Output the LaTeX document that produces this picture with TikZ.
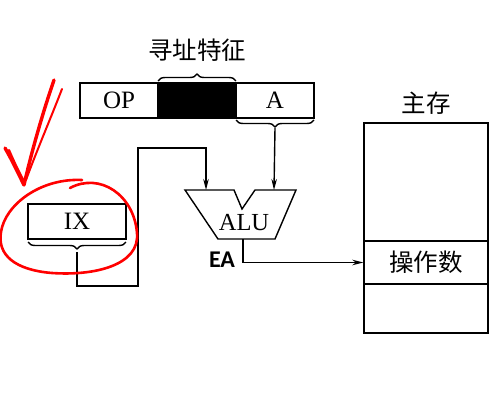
\documentclass[tikz,border=0pt]{standalone}
\usepackage{fontspec}
\setmainfont{Liberation Serif}
\newfontfamily\cjk{Noto Sans CJK SC}
\newfontfamily\eafont{Carlito}
\usetikzlibrary{arrows.meta,decorations.pathreplacing}
\begin{document}
\begin{tikzpicture}[x=1pt,y=-1pt,
  line width=1.4pt,
  cell/.style={draw, line width=1.4pt, inner sep=0pt, minimum width=78pt, minimum height=35pt, font=\fontsize{25}{28}\selectfont},
  zh/.style={font=\cjk\fontsize{24.5}{28}\selectfont},
  arr/.style={-{Stealth[length=11pt,width=5.5pt]}},
  brc/.style={decorate, decoration={brace, amplitude=7pt}},
  redink/.style={draw=red, line cap=round, line join=round}]
\useasboundingbox (0,0) rectangle (497,401);
% instruction
\node[cell] (op) at (119,100.5) {OP};
\node[cell, fill=black] (mid) at (197,100.5) {};
\node[cell] (a) at (275,100.5) {A};
\draw[brc] (158,81) -- (236,81);
\node[zh] (feat) at (197,50) {寻址特征};
\draw[brc] (314,120) -- (236,120);
\coordinate (abr) at (275,128);
% IX
\node[cell, minimum width=98pt] (ix) at (77,221.5) {IX};
\draw[brc] (126,242) -- (28,242);
\coordinate (ixb) at (77,252);
% ALU
\draw (185,190) -- (234,190) -- (242,209) -- (255,190) -- (296,190) -- (275,239) -- (218,239) -- cycle;
\node[font=\fontsize{24.5}{28}\selectfont] (alu) at (244,223) {ALU};
\coordinate (in1) at (206,190);
\coordinate (in2) at (274,190);
\coordinate (out) at (243,239);
\node[font=\eafont\bfseries\fontsize{24}{26}\selectfont] (ea) at (222,259.5) {EA};
% memory
\node[cell, minimum width=124pt, minimum height=118pt] (m1) at (426,182) {};
\node[cell, zh, minimum width=124pt, minimum height=43pt] (opd) at (426,262.5) {操作数};
\node[cell, minimum width=124pt, minimum height=49pt] (m3) at (426,308.5) {};
\node[zh] (mem) at (426,103) {主存};
% connectors
\draw[arr] (ixb) -- (77,286) -- (138,286) -- (138,148) -- (206,148) -- (in1);
\draw[arr] (abr) -- (in2);
\draw[arr] (out) |- (opd.west);
% red ink
\draw[redink, line width=3.4pt] (5,148) .. controls (12,160) and (18,173) .. (24,185) .. controls (32,150) and (43,112) .. (54,80);
\draw[redink, line width=2pt] (62,89) .. controls (50,120) and (37,150) .. (26,180);
\draw[redink, line width=2.2pt] (9,150) .. controls (15,164) and (20,174) .. (25,183);
\draw[redink, line width=2.6pt] (70,188) .. controls (100,172) and (134,195) .. (137,233) .. controls (140,265) and (95,276) .. (52,273) .. controls (15,270) and (-3,255) .. (1,232) .. controls (5,205) and (40,178) .. (82,180);
\end{tikzpicture}
\end{document}
